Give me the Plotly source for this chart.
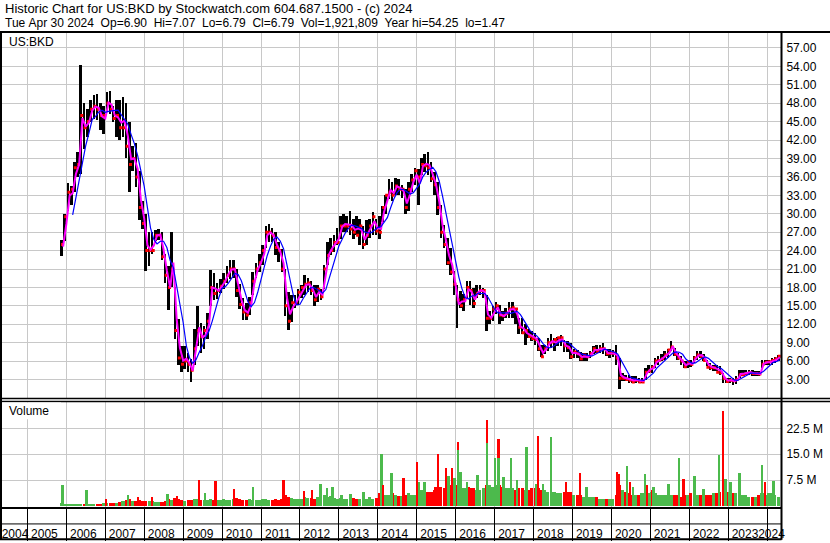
import pandas as pd
import numpy as np
import plotly.graph_objects as go

# ---------------- data (monthly, Nov 2005 .. Apr 2024) ----------------
months = pd.date_range("2005-11-01", "2024-04-01", freq="MS")

high = [
    25.8, 30.0,
    35.0, 34.5, 38.5, 40.0, 54.25, 48.0, 47.0, 48.5, 49.3, 49.5, 48.0, 47.5,
    49.8, 50.0, 47.5, 48.5, 48.5, 49.0, 48.0, 45.0, 41.0, 41.5, 37.0, 32.0,
    30.0, 27.0, 27.0, 27.4, 27.5, 27.0, 23.5, 21.5, 27.1, 18.0, 12.8, 8.5,
    8.5, 7.4, 6.3, 11.2, 15.0, 12.2, 11.7, 13.9, 20.9, 20.4, 18.8, 19.3,
    20.4, 21.5, 22.5, 22.5, 21.0, 18.5, 16.2, 15.5, 16.5, 20.5, 22.0, 23.5,
    24.9, 28.0, 28.4, 27.6, 27.0, 25.4, 24.3, 21.0, 17.3, 16.8, 16.8, 17.8,
    18.4, 20.0, 19.5, 19.0, 18.4, 18.4, 17.8, 21.6, 25.4, 26.0, 26.5, 27.6,
    29.7, 30.0, 29.7, 30.5, 29.2, 29.7, 29.2, 28.0, 29.0, 29.2, 30.3, 29.2,
    29.7, 31.3, 33.0, 35.7, 35.1, 35.9, 35.7, 34.6, 34.0, 35.1, 36.5, 37.5,
    37.3, 39.0, 39.8, 40.0, 38.4, 36.8, 35.2, 31.4, 28.2, 26.0, 24.4, 20.6,
    18.4, 17.4, 17.0, 19.0, 19.0, 17.9, 18.4, 18.4, 17.9, 16.8, 14.1, 15.0,
    15.7, 15.2, 14.1, 14.7, 15.7, 15.7, 14.7, 13.0, 13.0, 12.0, 11.2, 10.9,
    10.6, 9.8, 8.7, 8.7, 9.8, 10.4, 9.8, 10.0, 10.2, 9.5, 9.3, 9.0,
    8.0, 7.8, 7.5, 7.3, 7.3, 7.6, 8.4, 8.7, 8.7, 9.0, 7.9, 7.9,
    7.8, 8.7, 6.5, 4.1, 3.8, 3.8, 3.5, 3.5, 3.3, 3.3, 4.9, 5.4,
    5.4, 6.5, 6.8, 7.1, 7.6, 7.9, 9.2, 8.1, 7.3, 6.8, 6.0, 6.0,
    6.2, 6.8, 7.6, 7.7, 7.1, 6.2, 5.7, 5.4, 5.4, 5.2, 4.1, 3.3,
    3.3, 3.3, 3.6, 4.6, 4.6, 4.6, 4.6, 4.6, 4.4, 4.4, 6.2, 6.2,
    6.2, 6.5, 6.6, 7.07,
]
low = [
    23.1, 25.5,
    30.5, 31.5, 33.5, 36.0, 36.5, 40.5, 42.5, 45.0, 45.5, 45.2, 43.6, 43.0,
    46.5, 46.3, 45.0, 42.5, 42.0, 42.5, 39.0, 33.6, 37.0, 34.4, 29.0, 27.5,
    20.6, 21.5, 23.5, 25.5, 25.8, 22.5, 18.8, 14.4, 18.0, 9.6, 5.3, 4.2,
    4.7, 4.2, 2.6, 5.3, 8.5, 7.4, 8.0, 9.6, 15.0, 16.0, 16.1, 17.1,
    17.7, 18.8, 19.3, 19.5, 16.5, 14.5, 12.7, 12.7, 13.5, 16.8, 19.5, 20.5,
    21.6, 24.5, 25.4, 25.4, 23.2, 22.2, 20.5, 13.3, 11.1, 12.4, 14.6, 15.1,
    16.2, 16.8, 17.3, 16.8, 14.9, 15.7, 16.0, 17.8, 21.6, 23.2, 23.8, 24.9,
    25.9, 27.0, 27.0, 26.5, 25.9, 26.5, 24.9, 24.3, 24.9, 26.0, 26.5, 26.5,
    25.9, 28.6, 30.0, 32.4, 32.0, 33.0, 33.0, 32.5, 30.0, 30.5, 33.5, 34.6,
    31.4, 36.3, 36.8, 36.3, 35.2, 33.0, 29.8, 26.0, 24.4, 21.7, 20.0, 16.8,
    11.4, 14.7, 14.2, 16.3, 15.2, 14.7, 16.3, 16.8, 16.3, 10.9, 12.0, 12.5,
    13.6, 12.0, 12.5, 13.0, 13.0, 13.0, 12.0, 10.4, 10.4, 8.7, 9.8, 9.3,
    8.7, 7.7, 6.6, 7.1, 7.7, 8.2, 7.7, 8.5, 8.5, 7.5, 7.5, 6.3,
    6.5, 6.5, 6.1, 6.0, 6.0, 6.5, 7.1, 7.3, 7.3, 7.1, 6.8, 6.5,
    6.6, 5.4, 1.47, 2.7, 2.7, 2.5, 2.5, 2.5, 2.5, 2.5, 3.0, 4.1,
    4.1, 4.9, 5.4, 6.0, 6.2, 6.5, 7.6, 6.8, 6.2, 5.4, 4.9, 4.9,
    5.0, 5.7, 6.2, 6.5, 6.0, 5.2, 4.6, 4.4, 4.4, 3.8, 2.5, 2.5,
    2.5, 2.1, 2.2, 3.3, 3.5, 3.7, 3.8, 3.5, 3.5, 3.5, 4.9, 5.4,
    5.4, 5.4, 5.7, 6.0,
]
close = [
    25.0, 29.5,
    33.5, 34.0, 37.5, 38.0, 46.0, 44.0, 45.0, 47.0, 47.5, 47.0, 46.0, 46.0,
    48.0, 47.0, 45.5, 46.0, 44.0, 44.0, 41.0, 38.0, 39.0, 36.0, 31.0, 28.4,
    24.0, 24.0, 24.0, 26.5, 26.5, 23.0, 20.0, 18.0, 21.0, 11.0, 6.5, 5.5,
    6.0, 5.5, 4.5, 8.0, 11.0, 10.0, 11.0, 12.5, 18.0, 17.0, 17.5, 18.2,
    19.0, 20.0, 21.0, 21.0, 17.5, 15.2, 14.0, 13.5, 15.5, 19.0, 21.0, 22.0,
    24.0, 27.0, 27.0, 26.5, 24.5, 24.0, 21.0, 15.0, 12.5, 15.5, 15.5, 17.2,
    18.0, 18.5, 18.7, 17.5, 16.0, 17.7, 16.5, 21.0, 23.2, 24.0, 25.3, 25.3,
    28.0, 28.0, 28.0, 27.5, 27.0, 26.5, 28.0, 25.0, 26.5, 28.0, 29.5, 27.2,
    27.0, 31.0, 33.0, 33.5, 33.0, 34.5, 34.0, 34.0, 31.0, 34.0, 35.5, 37.0,
    36.0, 38.0, 37.8, 37.5, 35.7, 34.7, 31.0, 27.0, 25.0, 22.0, 20.5, 18.5,
    16.0, 15.0, 16.0, 18.0, 17.5, 15.4, 17.0, 17.5, 17.5, 13.0, 13.0, 14.5,
    15.0, 13.5, 13.4, 13.8, 14.5, 14.7, 14.5, 11.5, 10.6, 11.0, 10.0, 9.7,
    9.5, 8.0, 6.7, 8.0, 9.0, 9.1, 9.5, 9.8, 9.8, 8.5, 8.2, 6.7,
    7.5, 7.2, 6.4, 7.0, 6.7, 7.2, 8.0, 7.6, 8.0, 8.0, 7.2, 7.3,
    7.3, 6.5, 3.2, 3.2, 3.0, 2.9, 2.6, 2.9, 2.6, 2.6, 4.2, 4.4,
    5.0, 6.0, 6.1, 6.4, 7.0, 7.8, 8.3, 7.1, 6.5, 6.0, 5.1, 5.9,
    5.5, 6.5, 7.0, 6.8, 6.1, 5.0, 4.9, 4.9, 4.2, 4.1, 3.2, 2.7,
    2.9, 2.8, 3.0, 3.8, 3.8, 4.0, 4.1, 4.0, 4.0, 3.9, 5.5, 5.8,
    5.9, 6.1, 6.4, 6.79,
]
# typical monthly volume level, millions of shares
volume = [
    0.6, 0.3,
    0.3, 0.3, 0.4, 0.4, 0.5, 0.5, 0.4, 0.3, 0.4, 0.4, 0.5, 0.6,
    0.7, 0.6, 0.7, 0.8, 1.0, 1.2, 1.5, 2.0, 1.3, 1.4, 1.5, 1.2,
    1.3, 1.2, 1.3, 1.0, 0.9, 1.0, 1.4, 1.8, 1.6, 2.2, 2.0, 1.5,
    1.4, 1.5, 1.6, 2.0, 1.8, 1.5, 1.5, 1.6, 2.0, 1.5, 1.5, 1.6,
    1.8, 1.6, 1.7, 2.0, 2.2, 1.8, 1.6, 1.5, 1.8, 1.7, 1.6, 1.5,
    1.8, 2.0, 1.7, 1.6, 1.8, 1.7, 2.0, 3.0, 2.5, 2.2, 2.0, 1.8,
    2.0, 2.6, 2.2, 2.3, 2.0, 2.4, 2.5, 3.0, 2.6, 2.8, 2.2, 2.0,
    2.2, 2.0, 1.8, 2.0, 2.2, 2.0, 2.0, 2.2, 2.0, 2.4, 2.0, 2.2,
    3.5, 4.0, 3.0, 3.2, 3.5, 3.0, 2.8, 2.8, 3.2, 3.5, 3.0, 3.2,
    5.0, 4.5, 4.0, 4.0, 4.0, 4.5, 5.0, 5.5, 5.0, 5.5, 6.0, 6.0,
    6.0, 5.5, 5.0, 5.0, 5.0, 5.0, 4.5, 4.5, 5.0, 6.0, 6.0, 5.5,
    6.0, 6.0, 5.5, 5.0, 5.0, 5.0, 4.5, 5.0, 5.0, 4.5, 4.5, 5.0,
    5.0, 5.0, 4.5, 4.5, 4.0, 4.0, 4.0, 3.5, 3.5, 4.0, 4.0, 4.0,
    3.0, 3.0, 3.0, 2.5, 2.5, 2.5, 2.5, 2.5, 2.0, 2.0, 1.8, 1.8,
    2.0, 3.0, 6.0, 4.5, 4.0, 3.5, 3.0, 3.0, 3.0, 3.5, 4.0, 3.5,
    4.0, 3.5, 3.0, 3.0, 3.0, 3.0, 3.0, 3.0, 3.0, 2.5, 3.0, 3.0,
    3.5, 3.5, 3.0, 3.0, 3.0, 3.0, 3.0, 3.5, 3.5, 4.0, 6.0, 4.0,
    4.0, 3.5, 3.5, 3.0, 3.0, 3.0, 2.5, 2.5, 2.5, 3.0, 3.5, 3.0,
    3.5, 3.5, 3.0, 2.5,
]
# heavy-volume sessions: date, millions, 1 = up day (green) / 0 = down day (red)
spike_dates = [
    "2005-11-28", "2006-07-09", "2007-01-10", "2007-08-04", "2007-11-08",
    "2008-03-16", "2008-08-07", "2008-11-08", "2009-05-28", "2009-07-23",
    "2009-11-03", "2010-04-27", "2010-10-20", "2011-08-01", "2012-02-08",
    "2012-04-26", "2012-07-14", "2012-09-13", "2012-11-05", "2013-01-26",
    "2013-04-22", "2013-08-23", "2014-02-06", "2014-02-20", "2014-05-10",
    "2014-09-02", "2015-01-06", "2015-01-22", "2015-03-18", "2015-06-28",
    "2015-07-24", "2015-10-07", "2015-10-29", "2015-12-01", "2015-12-24",
    "2016-01-28", "2016-01-28", "2016-02-18", "2016-04-22", "2016-05-10",
    "2016-07-25", "2016-10-21", "2016-10-21", "2017-01-04", "2017-02-09",
    "2017-02-09", "2017-03-27", "2017-06-05", "2017-07-29", "2017-10-28",
    "2018-02-01", "2018-02-15", "2018-03-30", "2018-06-17", "2018-11-06",
    "2019-03-12", "2019-05-14", "2020-02-23", "2020-03-16", "2020-06-01",
    "2020-06-25", "2020-07-27", "2020-11-13", "2020-11-30", "2021-01-16",
    "2021-02-02", "2021-06-23", "2021-10-01", "2021-11-11", "2022-02-20",
    "2022-02-22", "2022-05-17", "2022-10-07", "2022-11-14", "2022-12-09",
    "2023-01-26", "2023-04-20", "2023-11-17", "2023-12-18", "2024-03-03",
]
spike_volume = [
    6.0, 4.5, 1.9, 3.0, 2.5,
    2.5, 3.4, 2.8, 7.4, 3.7,
    7.1, 4.7, 5.3, 7.3, 4.1,
    4.5, 6.2, 5.2, 5.4, 3.0,
    3.3, 3.9, 14.8, 6.0, 9.4,
    7.9, 12.6, 6.8, 6.8, 5.4,
    14.9, 10.9, 8.6, 10.9, 8.0,
    18.4, 16.2, 9.7, 6.8, 5.4,
    8.8, 24.7, 18.2, 13.8, 19.3,
    13.8, 8.3, 13.8, 7.3, 16.9,
    6.3, 20.1, 6.3, 19.8, 6.8,
    9.4, 5.4, 9.7, 9.2, 11.4,
    6.8, 5.4, 9.2, 5.9, 4.4,
    5.4, 6.3, 13.8, 7.7, 6.3,
    8.6, 4.9, 14.7, 27.3, 7.6,
    6.8, 9.5, 11.8, 6.8, 7.1,
]
spike_up = [
    1, 1, 0, 1, 0,
    0, 1, 0, 0, 1,
    0, 0, 1, 0, 0,
    0, 1, 1, 1, 1,
    1, 1, 1, 0, 1,
    0, 0, 1, 1, 0,
    0, 0, 1, 0, 1,
    0, 1, 1, 1, 0,
    1, 0, 1, 1, 0,
    1, 1, 1, 1, 1,
    1, 0, 1, 1, 0,
    0, 1, 0, 0, 1,
    0, 1, 1, 0, 0,
    1, 1, 1, 0, 0,
    1, 1, 1, 0, 1,
    1, 1, 1, 0, 1,
]
price_ticks = [3, 6, 9, 12, 15, 18, 21, 24, 27, 30, 33, 36, 39, 42, 45, 48, 51, 54, 57]
volume_ticks = [7.5, 15.0, 22.5]
volume_tick_text = ["7.5 M", "15.0 M", "22.5 M"]
years = list(range(2004, 2025))

header1 = "Historic Chart for US:BKD by Stockwatch.com 604.687.1500 - (c) 2024"
header2 = "Tue Apr 30 2024  Op=6.90  Hi=7.07  Lo=6.79  Cl=6.79  Vol=1,921,809  Year hi=54.25  lo=1.47"

# ---------------- derived ----------------
H = np.array(high); L = np.array(low); C = np.array(close)
mid = months + pd.Timedelta(days=14)
mend = months + pd.offsets.MonthEnd(0)
typ = pd.Series((H + L + C) / 3.0)
ma_short = typ
ma_long = typ.rolling(4).mean()
prev = pd.Series(C).shift(1).fillna(C[0] - 0.01)
vcol = np.where(C >= prev, "#4cba4c", "#ff0000")
scol = ["#4cba4c" if u else "#ff0000" for u in spike_up]

DAY = 86400000
FONT = "Liberation Sans, Arial, sans-serif"
GRID = "#c8c8c8"

# pixel helpers for layout (figure 830x543, plot area x 2..781, y 33..509)
def xp(px):
    return (px - 2) / 779.0
def yp(py):
    return (509 - py) / 476.0

fig = go.Figure()
fig.add_trace(go.Bar(x=mid, y=H - L, base=L, width=24 * DAY,
                     marker=dict(color="black", line=dict(width=0)),
                     xaxis="x", yaxis="y", hoverinfo="skip"))
fig.add_trace(go.Scatter(x=mid + pd.Timedelta(days=10), y=C, mode="markers",
                         marker=dict(color="red", size=3, symbol="square", line=dict(width=0)),
                         xaxis="x", yaxis="y", hoverinfo="skip"))
fig.add_trace(go.Scatter(x=mend, y=ma_short, mode="lines",
                         line=dict(color="#ff00ff", width=2), xaxis="x", yaxis="y"))
fig.add_trace(go.Scatter(x=mend, y=ma_long, mode="lines",
                         line=dict(color="#0000ff", width=1.2), xaxis="x", yaxis="y"))
fig.add_trace(go.Bar(x=mid, y=volume, width=29 * DAY,
                     marker=dict(color=vcol, line=dict(width=0)),
                     xaxis="x", yaxis="y2", hoverinfo="skip"))
fig.add_trace(go.Bar(x=pd.to_datetime(spike_dates), y=spike_volume, width=17 * DAY,
                     marker=dict(color=scol, line=dict(width=0)),
                     xaxis="x", yaxis="y2", hoverinfo="skip"))

year_starts = [f"{y}-01-01" for y in years[1:]]
label_pos = ["2004-09-05"] + [f"{y}-06-08" for y in years[1:-1]] + ["2024-02-12"]

fig.update_layout(
    width=830, height=543,
    margin=dict(l=2, r=49, t=33, b=34),
    paper_bgcolor="white", plot_bgcolor="white",
    showlegend=False, barmode="overlay", bargap=0,
    font=dict(family=FONT, size=12, color="black"),
    xaxis=dict(
        type="date", range=["2004-05-06", "2024-05-11"], anchor="y2", domain=[0, 1],
        tickmode="array", tickvals=label_pos, ticktext=[str(y) for y in years],
        tickangle=0, ticklabeloverflow="allow",
        ticks="outside", ticklen=15, tickcolor="rgba(0,0,0,0)",
        showgrid=False, zeroline=False,
        showline=True, linecolor="black", linewidth=2,
        tickfont=dict(family=FONT, size=12, color="black"),
        minor=dict(tickmode="array", tickvals=year_starts, ticks="outside",
                   ticklen=32, tickcolor="black", tickwidth=1,
                   showgrid=True, gridcolor=GRID, gridwidth=1),
    ),
    yaxis=dict(
        domain=[yp(401), 1], range=[-0.243, 59.43], side="right", anchor="x",
        tickmode="array", tickvals=price_ticks, ticktext=[f"{v:.2f}" for v in price_ticks],
        ticks="outside", ticklen=2, tickcolor="rgba(0,0,0,0)",
        showgrid=True, gridcolor=GRID, gridwidth=1, zeroline=False, showline=False,
        tickfont=dict(family=FONT, size=12, color="black"),
    ),
    yaxis2=dict(
        domain=[0, yp(403)], range=[-0.288, 30.29], side="right", anchor="x",
        tickmode="array", tickvals=volume_ticks, ticktext=volume_tick_text,
        ticks="outside", ticklen=2, tickcolor="rgba(0,0,0,0)",
        showgrid=True, gridcolor=GRID, gridwidth=1, zeroline=False, showline=False,
        tickfont=dict(family=FONT, size=12, color="black"),
    ),
)

line = dict(color="black", width=2)
shapes = [
    dict(type="line", xref="paper", yref="paper", x0=xp(0), x1=xp(830), y0=yp(32), y1=yp(32), line=line),
    dict(type="line", xref="paper", yref="paper", x0=xp(1), x1=xp(1), y0=yp(32), y1=yp(542), line=line),
    dict(type="line", xref="paper", yref="paper", x0=xp(781.5), x1=xp(781.5), y0=yp(32), y1=yp(542), line=line),
    dict(type="line", xref="paper", yref="paper", x0=xp(0), x1=xp(830), y0=yp(400), y1=yp(400), line=dict(color="black", width=1.5)),
    dict(type="line", xref="paper", yref="paper", x0=xp(0), x1=xp(830), y0=yp(403), y1=yp(403), line=dict(color="black", width=1.5)),
    dict(type="line", xref="paper", yref="paper", x0=xp(0), x1=xp(781.5), y0=yp(526), y1=yp(526), line=dict(color="black", width=1)),
    dict(type="line", xref="paper", yref="paper", x0=xp(0), x1=xp(781.5), y0=yp(541.5), y1=yp(541.5), line=line),
    dict(type="rect", xref="paper", yref="paper", x0=xp(2), x1=xp(61), y0=yp(47), y1=yp(33),
         fillcolor="white", line=dict(width=0), layer="above"),
    dict(type="rect", xref="paper", yref="paper", x0=xp(2), x1=xp(61), y0=yp(421), y1=yp(404),
         fillcolor="white", line=dict(width=0), layer="above"),
]
fig.update_layout(shapes=shapes)

def note(text, px, py, size=12):
    return dict(text=text, xref="paper", yref="paper", x=xp(px), y=yp(py),
                xanchor="left", yanchor="middle", showarrow=False,
                font=dict(family=FONT, size=size, color="black"))

fig.update_layout(annotations=[
    note(header1, 3, 8, 13),
    note(header2.replace(" ", "\u00a0"), 3, 23),
    note("US:BKD", 7, 42),
    note("Volume", 7, 413),
])

fig.write_html("out.html", config={"displayModeBar": False},
               post_script="document.body.style.margin='0px';document.body.style.padding='0px';")
